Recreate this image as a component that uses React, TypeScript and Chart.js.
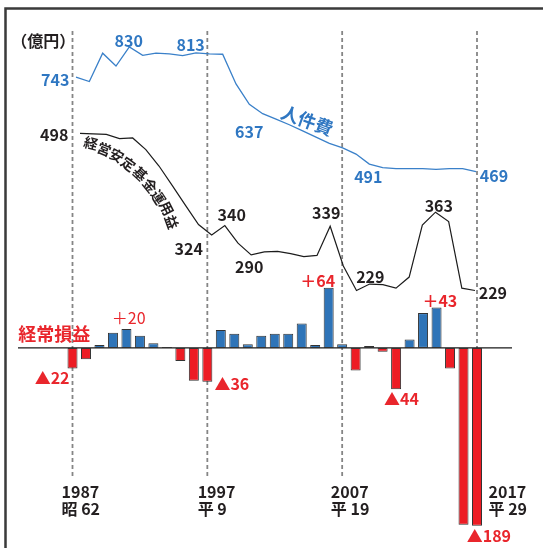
import React, { useEffect, useRef } from "react";
import { Chart, registerables } from "chart.js";

Chart.register(...registerables);

// ---------------- DATA ----------------
const years = [
  1987, 1988, 1989, 1990, 1991, 1992, 1993, 1994, 1995, 1996, 1997, 1998, 1999, 2000, 2001, 2002,
  2003, 2004, 2005, 2006, 2007, 2008, 2009, 2010, 2011, 2012, 2013, 2014, 2015, 2016, 2017,
];
// 人件費 (億円)
const personnelCost = [
  743, 730, 812, 775, 830, 806, 812, 810, 805, 813, 810, 809, 723, 664, 637, 621,
  605, 587, 569, 551, 538, 520, 491, 481, 478, 478, 478, 476, 478, 478, 469,
];
// 経営安定基金運用益 (億円)
const fundIncome = [
  498, 497, 496, 489, 490, 470, 442, 409, 375, 342, 324, 340, 310, 290, 295, 296,
  292, 287, 289, 339, 271, 229, 240, 239, 233, 252, 341, 363, 347, 233, 229,
];
// 経常損益 (億円)
const ordinaryProfit = [
  -22, -12, 3, 16, 20, 13, 5, 1, -14, -35, -36, 19, 15, 4, 13, 15,
  15, 26, 3, 64, 4, -24, 2, -4, -44, 9, 37, 43, -22, -188, -189,
];
const tickYears = [1987, 1997, 2007, 2017];
const tickLabelsWestern = ["1987", "1997", "2007", "2017"];
const tickLabelsEra = ["昭 62", "平 9", "平 19", "平 29"];
const personnelLabelYears = [1987, 1991, 1996, 2001, 2009, 2017];
const fundLabelYears = [1987, 1997, 1998, 2000, 2006, 2008, 2014, 2017];
const profitLabelYears = [1987, 1991, 1997, 2006, 2011, 2014, 2017];

// ---------------- STYLE / LAYOUT ----------------
const W = 543;
const H = 548;
const FONT = '"Noto Sans CJK JP", "Noto Sans", sans-serif';
const BLUE_TEXT = "#2f77c2";
const BLUE_LINE = "#3a80c9";
const BAR_BLUE = "#2e74b8";
const BAR_RED = "#ed1c24";
const RED_TEXT = "#e9262c";
const DARK = "#231f20";

// pixel calibrations: [value1, pixel1, value2, pixel2]
const CAL = {
  x: [1987, 72.5, 2017, 477],
  xBlue: [1987, 76, 2017, 476],
  xBlack: [1987, 80, 2017, 475],
  y: [0, 347.9, 64, 287.7],
  yBlue: [830, 47, 469, 171.7],
  yBlack: [498, 133.3, 229, 290.5],
};
const BAR_WIDTH = 10;

function rangeX(c: number[]) {
  const k = (c[3] - c[1]) / (c[2] - c[0]);
  return { min: c[0] + (0 - c[1]) / k, max: c[0] + (W - c[1]) / k };
}
function rangeY(c: number[]) {
  const k = (c[3] - c[1]) / (c[2] - c[0]);
  return { min: c[0] + (H - c[1]) / k, max: c[0] + (0 - c[1]) / k };
}
const barPxPerYear = (CAL.x[3] - CAL.x[1]) / (CAL.x[2] - CAL.x[0]);

const personnelLabelOffsets: Record<number, [number, number]> = {
  1987: [-20.8, 2.7],
  1991: [-0.6, -6.3],
  1996: [-5.4, -7.9],
  2001: [-13.4, 18.2],
  2009: [-1, 12.4],
  2017: [18, 4.6],
};
const fundLabelOffsets: Record<number, [number, number]> = {
  1987: [-25.8, 1.8],
  1997: [-23, 13.8],
  1998: [6.9, -11.1],
  2000: [-1.9, 12.3],
  2006: [-3.9, -13.2],
  2008: [13.8, -13.8],
  2014: [3.3, -6.2],
  2017: [17.9, 2.5],
};
const profitLabelOffsets: Record<number, [number, number, string]> = {
  1987: [-20.4, 8.9, "bold"],
  1991: [2.2, -10.7, "normal"],
  1997: [24.5, 1.7, "bold"],
  2006: [-10.9, -6.9, "bold"],
  2011: [5.4, 9.7, "bold"],
  2014: [3.3, -7, "bold"],
  2017: [11.9, 10.5, "bold"],
};
const tickLabelDx = [-11, -9.7, -11.3, 11.5];

const curvedTitle: [string, number, number, number][] = [
  ["経", 90.8, 143.3, 15],
  ["営", 104.2, 149.2, 22],
  ["安", 116.7, 155.7, 28],
  ["定", 128.3, 164, 36],
  ["基", 140, 174, 43],
  ["金", 150, 185.7, 51],
  ["運", 158.3, 197.3, 57],
  ["用", 166.7, 208.3, 63],
  ["益", 171.7, 222, 70],
];

const overlayPlugin = {
  id: "overlay",
  beforeDatasetsDraw(chart: any) {
    const ctx = chart.ctx as CanvasRenderingContext2D;
    const xs = chart.scales.x;
    const ys = chart.scales.y;
    ctx.save();
    // frame
    ctx.strokeStyle = "#3a3a3a";
    ctx.lineWidth = 2.5;
    ctx.beginPath();
    ctx.moveTo(5.5, H);
    ctx.lineTo(5.5, 8.6);
    ctx.lineTo(W, 8.6);
    ctx.stroke();
    // dashed year lines
    ctx.strokeStyle = "#858585";
    ctx.lineWidth = 1.8;
    ctx.setLineDash([4, 3]);
    tickYears.forEach((yr) => {
      const px = xs.getPixelForValue(yr);
      ctx.beginPath();
      ctx.moveTo(px, 31);
      ctx.lineTo(px, 478);
      ctx.stroke();
    });
    ctx.setLineDash([]);
    // zero line
    const y0 = ys.getPixelForValue(0);
    ctx.strokeStyle = "#1a1a1a";
    ctx.lineWidth = 1.2;
    ctx.beginPath();
    ctx.moveTo(18, y0);
    ctx.lineTo(512, y0);
    ctx.stroke();
    ctx.restore();
  },
  afterDatasetsDraw(chart: any) {
    const ctx = chart.ctx as CanvasRenderingContext2D;
    const s = chart.scales;
    ctx.save();
    ctx.textAlign = "center";
    ctx.textBaseline = "middle";

    // unit
    ctx.fillStyle = DARK;
    ctx.font = `bold 16px ${FONT}`;
    ctx.fillText("（億円）", 43.2, 41);

    // personnel labels
    ctx.fillStyle = BLUE_TEXT;
    ctx.font = `bold 16px ${FONT}`;
    personnelLabelYears.forEach((yr) => {
      const i = years.indexOf(yr);
      const [dx, dy] = personnelLabelOffsets[yr];
      const px = s.xBlue.getPixelForValue(yr);
      const py = s.yBlue.getPixelForValue(personnelCost[i]);
      ctx.fillText(String(personnelCost[i]), px + dx, py + dy);
    });
    // 人件費 title
    {
      const i = years.indexOf(2004);
      const px = s.xBlue.getPixelForValue(2004);
      const py = s.yBlue.getPixelForValue(personnelCost[i]);
      ctx.save();
      ctx.translate(px + 4.5, py - 10.5);
      ctx.rotate((20 * Math.PI) / 180);
      ctx.font = `bold 18px ${FONT}`;
      ctx.fillText("人件費", 0, 0);
      ctx.restore();
    }

    // fund labels
    ctx.fillStyle = DARK;
    ctx.font = `bold 16px ${FONT}`;
    fundLabelYears.forEach((yr) => {
      const i = years.indexOf(yr);
      const [dx, dy] = fundLabelOffsets[yr];
      const px = s.xBlack.getPixelForValue(yr);
      const py = s.yBlack.getPixelForValue(fundIncome[i]);
      ctx.fillText(String(fundIncome[i]), px + dx, py + dy);
    });
    // curved title
    ctx.font = `bold 14px ${FONT}`;
    curvedTitle.forEach(([ch, x, y, rot]) => {
      ctx.save();
      ctx.translate(x, y);
      ctx.rotate((rot * Math.PI) / 180);
      ctx.fillText(ch, 0, 0);
      ctx.restore();
    });

    // profit labels
    ctx.fillStyle = RED_TEXT;
    profitLabelYears.forEach((yr) => {
      const i = years.indexOf(yr);
      const v = ordinaryProfit[i];
      const [dx, dy, weight] = profitLabelOffsets[yr];
      const px = s.x.getPixelForValue(yr);
      const py = s.y.getPixelForValue(v);
      ctx.font = `${weight} 16px ${FONT}`;
      const txt = v < 0 ? "▲" + String(-v) : "＋" + String(v);
      ctx.fillText(txt, px + dx, py + dy);
    });
    ctx.font = `bold 18px ${FONT}`;
    ctx.fillText("経常損益", 54.2, 333.7);

    // x tick labels
    ctx.fillStyle = DARK;
    ctx.textAlign = "left";
    ctx.font = `bold 16px ${FONT}`;
    tickYears.forEach((yr, k) => {
      const px = s.x.getPixelForValue(yr) + tickLabelDx[k];
      ctx.fillText(tickLabelsWestern[k], px, 492.3);
      ctx.fillText(tickLabelsEra[k], px, 509);
    });
    ctx.restore();
  },
};

export default function App() {
  const canvasRef = useRef<HTMLCanvasElement | null>(null);

  useEffect(() => {
    if (!canvasRef.current) return;
    const hidden = (extra: any) => ({ type: "linear", display: false, bounds: "data", offset: false, ...extra });
    const chart = new Chart(canvasRef.current, {
      type: "bar",
      data: {
        datasets: [
          {
            type: "bar",
            label: "経常損益",
            data: years.map((x, i) => ({ x, y: ordinaryProfit[i] })),
            xAxisID: "x",
            yAxisID: "y",
            backgroundColor: ordinaryProfit.map((v) => (v < 0 ? BAR_RED : BAR_BLUE)),
            borderColor: "#333333",
            borderWidth: 1,
            borderSkipped: false,
            grouped: false,
            categoryPercentage: 1,
            barPercentage: BAR_WIDTH / barPxPerYear,
            order: 3,
          },
          {
            type: "line",
            label: "人件費",
            data: years.map((x, i) => ({ x, y: personnelCost[i] })),
            xAxisID: "xBlue",
            yAxisID: "yBlue",
            borderColor: BLUE_LINE,
            borderWidth: 1.3,
            pointRadius: 0,
            tension: 0,
            fill: false,
            order: 1,
          },
          {
            type: "line",
            label: "経営安定基金運用益",
            data: years.map((x, i) => ({ x, y: fundIncome[i] })),
            xAxisID: "xBlack",
            yAxisID: "yBlack",
            borderColor: "#1c1c1c",
            borderWidth: 1.2,
            pointRadius: 0,
            tension: 0,
            fill: false,
            order: 2,
          },
        ] as any,
      },
      options: {
        animation: false,
        responsive: false,
        events: [],
        layout: { padding: 0, autoPadding: false } as any,
        plugins: { legend: { display: false }, tooltip: { enabled: false } },
        scales: {
          x: hidden({
            ...rangeX(CAL.x),
            afterBuildTicks: (scale: any) => {
              scale.ticks = years.map((v) => ({ value: v }));
            },
          }),
          xBlue: hidden(rangeX(CAL.xBlue)),
          xBlack: hidden(rangeX(CAL.xBlack)),
          y: hidden(rangeY(CAL.y)),
          yBlue: hidden(rangeY(CAL.yBlue)),
          yBlack: hidden(rangeY(CAL.yBlack)),
        } as any,
      },
      plugins: [overlayPlugin],
    });
    return () => chart.destroy();
  }, []);

  return (
    <div style={{ position: "fixed", left: 0, top: 0, width: W, height: H, background: "#fff" }}>
      <canvas ref={canvasRef} width={W} height={H} style={{ display: "block", width: W, height: H }} />
    </div>
  );
}
